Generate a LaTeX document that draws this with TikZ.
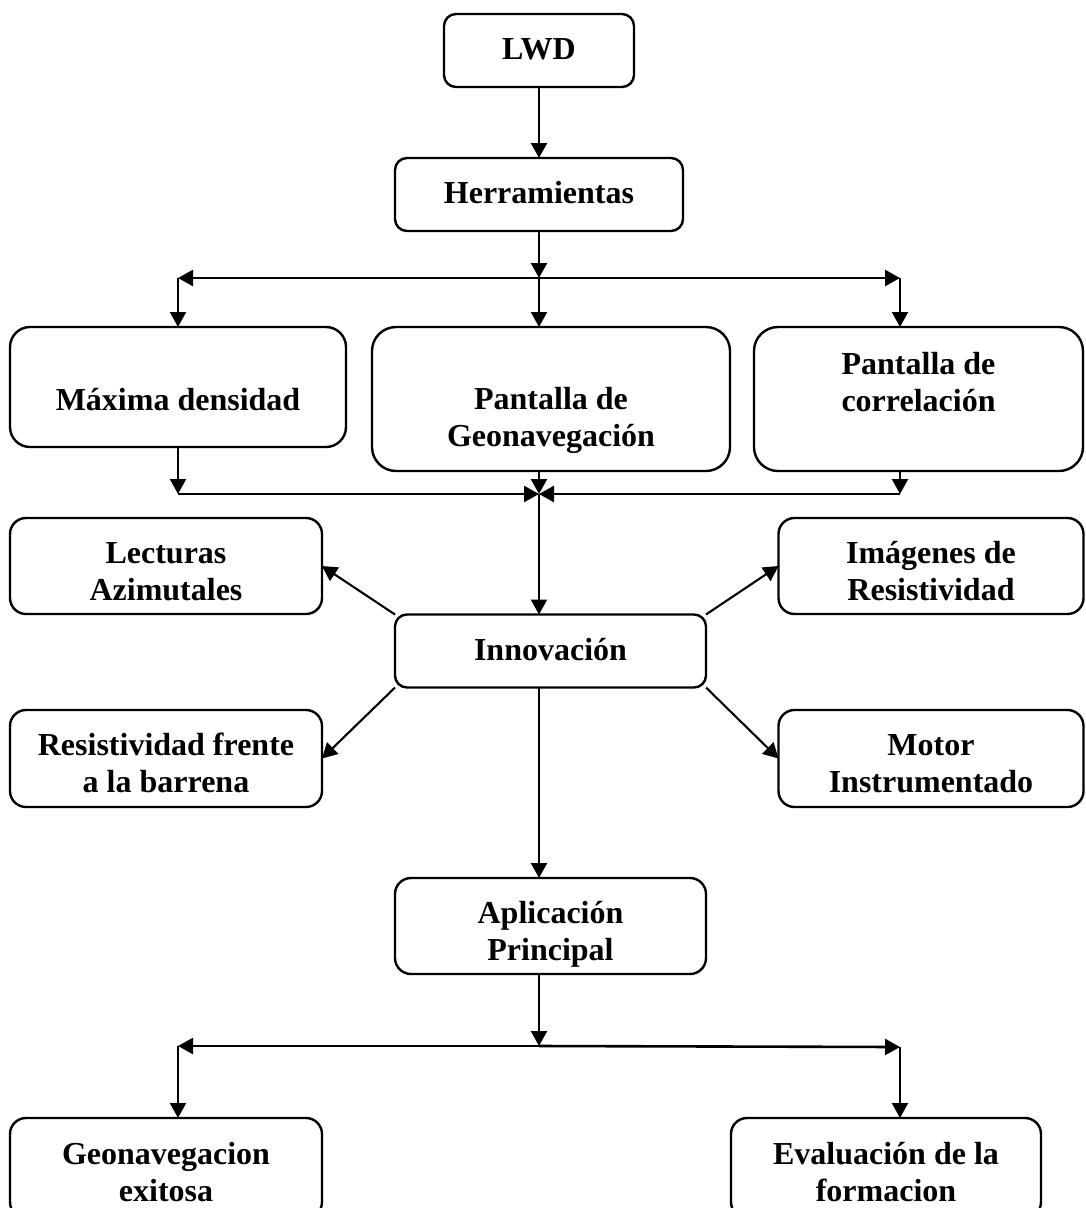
\documentclass[tikz,border=0pt]{standalone}
\usepackage{fontspec}
\setmainfont{Liberation Serif}
\usetikzlibrary{arrows.meta}
\newcommand\lbl[2]{\raisebox{\dimexpr-#1pt-11.2pt\relax}[0pt][0pt]{\begin{tabular}{@{}c@{}}#2\end{tabular}}}
\tikzset{
  bx/.style={draw, line width=2.4pt, rounded corners=#1, inner sep=0pt, outer sep=0pt,
    font=\fontsize{32}{37}\selectfont\bfseries},
  conn/.style={line width=2.1pt, -{Triangle[length=15pt,width=16pt]}},
  bar/.style={line width=2.6pt, -{Triangle[length=15pt,width=16pt]}}
}
\begin{document}
\begin{tikzpicture}[x=1pt,y=-1pt]
\useasboundingbox[fill=white] (0,0) rectangle (1085,1208);
% boxes
\node[bx=12pt, minimum width=190pt, minimum height=73pt] (lwd) at (539,50.5) {\lbl{-3}{LWD}};
\node[bx=12pt, minimum width=288pt, minimum height=73pt] (herr) at (539,194.5) {\lbl{-3}{Herramientas}};
\node[bx=20pt, minimum width=336pt, minimum height=120pt] (maxd) at (178,387) {\lbl{11}{Máxima densidad}};
\node[bx=24pt, minimum width=358pt, minimum height=144pt] (pgeo) at (551,399) {\lbl{17}{Pantalla de\\Geonavegación}};
\node[bx=24pt, minimum width=329pt, minimum height=144pt] (pcor) at (918.5,399) {\lbl{-18}{Pantalla de\\correlación}};
\node[bx=16pt, minimum width=312pt, minimum height=96pt] (lect) at (166,566) {\lbl{4}{Lecturas\\Azimutales}};
\node[bx=16pt, minimum width=305pt, minimum height=96pt] (imag) at (931,566) {\lbl{4}{Imágenes de\\Resistividad}};
\node[bx=12pt, minimum width=311pt, minimum height=73pt] (inno) at (550.5,651) {\lbl{-2.5}{Innovación}};
\node[bx=16pt, minimum width=312pt, minimum height=97pt] (resf) at (166,758.5) {\lbl{3}{Resistividad frente\\a la barrena}};
\node[bx=16pt, minimum width=305pt, minimum height=97pt] (motor) at (931,758.5) {\lbl{3}{Motor\\Instrumentado}};
\node[bx=16pt, minimum width=311pt, minimum height=96pt] (apli) at (550.5,926) {\lbl{4}{Aplicación\\Principal}};
\node[bx=16pt, minimum width=312pt, minimum height=100pt] (geon) at (166,1168) {\lbl{2.5}{Geonavegacion\\exitosa}};
\node[bx=16pt, minimum width=310pt, minimum height=100pt] (eval) at (886,1168) {\lbl{2.5}{Evaluación de la\\formacion}};
% junctions
\coordinate (j1) at (539,278);
\coordinate (j1l) at (178,278);
\coordinate (j1r) at (900,278);
\coordinate (j2) at (539,494);
\coordinate (j2l) at (178,494);
\coordinate (j2r) at (900,494);
\coordinate (j3) at (539,1046);
\coordinate (j3l) at (178,1046);
\coordinate (j3r) at (900,1047);
% connectors
\draw[conn] (lwd.south) -- (herr.north);
\draw[conn] (herr.south) -- (j1);
\draw[bar] (j1) -- (j1l);
\draw[bar] (j1) -- (j1r);
\draw[conn] (j1l) -- (j1l |- maxd.north);
\draw[conn] (j1) -- (j1 |- pgeo.north);
\draw[conn] (j1r) -- (j1r |- pcor.north);
\draw[conn] (j2l |- maxd.south) -- (j2l);
\draw[bar] (j2l) -- (j2);
\draw[conn] (j2 |- pgeo.south) -- (j2);
\draw[conn] (j2r |- pcor.south) -- (j2r);
\draw[bar] (j2r) -- (j2);
\draw[conn] (j2) -- (j2 |- inno.north);
\draw[conn] (inno.north west) -- (lect.east);
\draw[conn] (inno.north east) -- (imag.west);
\draw[conn] (inno.south west) -- (resf.east);
\draw[conn] (inno.south east) -- (motor.west);
\draw[conn] (j2 |- inno.south) -- (j2 |- apli.north);
\draw[conn] (j3 |- apli.south) -- (j3);
\draw[bar] (j3) -- (j3l);
\draw[bar] (j3) -- (j3r);
\draw[conn] (j3l) -- (j3l |- geon.north);
\draw[conn] (j3r) -- (j3r |- eval.north);
\end{tikzpicture}
\end{document}
